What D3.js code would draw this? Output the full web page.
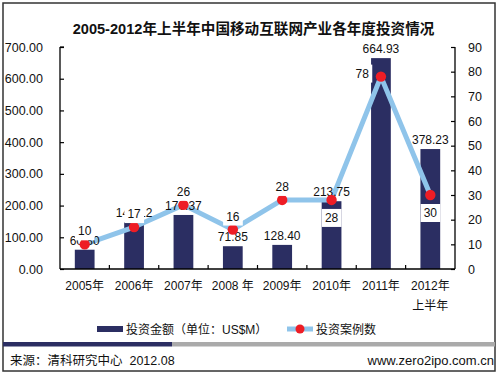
<!DOCTYPE html>
<html><head><meta charset="utf-8">
<script src="https://cdn.jsdelivr.net/npm/d3@7/dist/d3.min.js"></script>
<style>body{margin:0;background:#fff}svg{display:block}</style>
</head><body>
<svg id="c" width="500" height="375"></svg>
<script>
const title = "2005-2012年上半年中国移动互联网产业各年度投资情况";
const categories = ["2005年","2006年","2007年","2008 年","2009年","2010年","2011年","2012年|上半年"];
const amountValues = [60.80,148.12,170.37,71.85,76.00,213.75,664.93,378.23];
const amountLabels = ["60.80","148.12","170.37","71.85","128.40","213.75","664.93","378.23"];
const caseCounts = [10,17,26,16,28,28,78,30];
const caseLabelPlace = ["above","above","above","above","above","below","left","below"];
const leftTicks = [0,100,200,300,400,500,600,700];
const rightTicks = [0,10,20,30,40,50,60,70,80,90];
const legendNames = ["投资金额（单位：US$M）","投资案例数"];
const sourceText = "来源：清科研究中心  2012.08";
const siteText = "www.zero2ipo.com.cn";

const FONT = "'Liberation Sans','Noto Sans CJK SC',Arial,sans-serif";
const BAR = "#2b2e62", LINE = "#8fc4ea", DOT = "#ee1d25";
const svg = d3.select("#c");
const L = 60, R = 455, T = 47, B = 269;

const x = d3.scaleBand().domain(categories).range([L, R]).paddingInner(0.6).paddingOuter(0.3);
const yL = d3.scaleLinear().domain([0, 700]).range([B, T]);
const yR = d3.scaleLinear().domain([0, 90]).range([B, T]);
const cx = c => x(c) + x.bandwidth() / 2;

// frame
svg.append("rect").attr("x",3).attr("y",3).attr("width",492).attr("height",368)
  .attr("fill","none").attr("stroke","#333").attr("stroke-width",1.5);

// title
svg.append("text").attr("x",253.5).attr("y",34).attr("text-anchor","middle")
  .attr("font-family",FONT).attr("font-weight","bold").attr("font-size",14.6).attr("fill","#111").text(title);

// bars
svg.append("g").selectAll("rect").data(categories).join("rect")
  .attr("x", c => x(c)).attr("width", x.bandwidth())
  .attr("y", (c,i) => yL(amountValues[i])).attr("height", (c,i) => B - yL(amountValues[i]))
  .attr("fill", BAR);

// axes
const axL = svg.append("g").attr("transform",`translate(${L},0)`)
  .call(d3.axisRight(yL).tickValues(leftTicks).tickSize(4).tickFormat(""));
const axR = svg.append("g").attr("transform",`translate(${R},0)`)
  .call(d3.axisLeft(yR).tickValues(rightTicks).tickSize(4).tickFormat(""));
[axL, axR].forEach(a => { a.selectAll("path,line").attr("stroke","#000").attr("stroke-width",1.2); a.select(".domain").attr("d", null); });
svg.append("line").attr("x1",L).attr("x2",L).attr("y1",T).attr("y2",B).attr("stroke","#000").attr("stroke-width",1.3);
svg.append("line").attr("x1",R).attr("x2",R).attr("y1",T).attr("y2",B).attr("stroke","#000").attr("stroke-width",1.3);
svg.append("line").attr("x1",L).attr("x2",R).attr("y1",B).attr("y2",B).attr("stroke","#000").attr("stroke-width",1.3);
svg.append("line").attr("x1",L).attr("x2",L+4).attr("y1",T).attr("y2",T).attr("stroke","#000").attr("stroke-width",1.2);
// x tick marks at band boundaries
const step = x.step();
svg.append("g").selectAll("line").data(categories.slice(1)).join("line")
  .attr("x1", c => x(c) - step*0.3 - 0.5*(step - x.bandwidth()) + step*0.3 ).attr("x2", c => x(c) - (step - x.bandwidth())/2)
  .attr("x1", c => x(c) - (step - x.bandwidth())/2)
  .attr("y1", B).attr("y2", B-4).attr("stroke","#000").attr("stroke-width",1.2);

// left labels
svg.append("g").selectAll("text").data(leftTicks).join("text")
  .attr("x",43).attr("y", d => yL(d) + 4.5).attr("text-anchor","end")
  .attr("font-family",FONT).attr("font-size",12.5).attr("fill","#111").text(d => d.toFixed(2));
// right labels
svg.append("g").selectAll("text").data(rightTicks).join("text")
  .attr("x",468).attr("y", d => yR(d) + 4.5).attr("text-anchor","start")
  .attr("font-family",FONT).attr("font-size",12.5).attr("fill","#111").text(d => d);
// category labels
const cl = svg.append("g").selectAll("text").data(categories).join("text")
  .attr("x", c => cx(c)).attr("y", 290).attr("text-anchor","middle")
  .attr("font-family",FONT).attr("font-size",12).attr("fill","#111");
cl.each(function(c){
  const parts = c.split("|");
  d3.select(this).selectAll("tspan").data(parts).join("tspan")
    .attr("x", cx(c)).attr("dy",(p,i)=> i ? 20 : 0).text(p => p);
});

// line
const lineGen = d3.line().x((d,i) => cx(categories[i])).y(d => yR(d));
svg.append("path").datum(caseCounts).attr("d", lineGen)
  .attr("fill","none").attr("stroke",LINE).attr("stroke-width",5).attr("stroke-linejoin","round");

// bar labels
svg.append("g").selectAll("text").data(categories).join("text")
  .attr("x", c => cx(c)).attr("y", (c,i) => yL(amountValues[i]) - 5).attr("text-anchor","middle")
  .attr("font-family",FONT).attr("font-size",12).attr("fill","#111").text((c,i) => amountLabels[i]);

// markers
svg.append("g").selectAll("circle").data(caseCounts).join("circle")
  .attr("cx",(d,i)=>cx(categories[i])).attr("cy",d=>yR(d)).attr("r",5.2).attr("fill",DOT);

// case labels with white background
const cg = svg.append("g");
caseCounts.forEach((d,i) => {
  const px = cx(categories[i]), py = yR(d), pl = caseLabelPlace[i];
  let tx = px, ty = py - 9, anchor = "middle";
  if (pl === "below") { ty = py + 22; }
  if (pl === "left") { tx = px - 12; ty = py + 1; anchor = "end"; }
  const g = cg.append("g");
  const t = g.append("text").attr("x",tx).attr("y",ty).attr("text-anchor",anchor)
    .attr("font-family",FONT).attr("font-size",12).attr("fill","#111").text(d);
  const bb = t.node().getBBox();
  g.insert("rect","text").attr("x",bb.x-3).attr("y",ty-13).attr("width",bb.width+6).attr("height",18).attr("fill","#fff");
});

// legend
svg.append("rect").attr("x",97).attr("y",326).attr("width",26).attr("height",6).attr("fill",BAR);
svg.append("text").attr("x",126).attr("y",334).attr("font-family",FONT).attr("font-size",12).attr("fill","#111").text(legendNames[0]);
svg.append("line").attr("x1",287).attr("x2",313).attr("y1",329).attr("y2",329).attr("stroke",LINE).attr("stroke-width",5);
svg.append("circle").attr("cx",300).attr("cy",329).attr("r",4.5).attr("fill",DOT);
svg.append("text").attr("x",316).attr("y",334).attr("font-family",FONT).attr("font-size",12).attr("fill","#111").text(legendNames[1]);

// footer band
svg.append("rect").attr("x",3).attr("y",342).attr("width",169).attr("height",4.5).attr("fill",BAR);
svg.append("rect").attr("x",172).attr("y",342).attr("width",323).attr("height",4.5).attr("fill","#aaa");
svg.append("text").attr("x",10).attr("y",365).attr("font-family",FONT).attr("font-size",12.5).attr("fill","#111")
  .attr("xml:space","preserve").style("white-space","pre").text(sourceText);
svg.append("text").attr("x",494).attr("y",365).attr("text-anchor","end").attr("font-family",FONT).attr("font-size",13).attr("fill","#111").text(siteText);
</script>
</body></html>
